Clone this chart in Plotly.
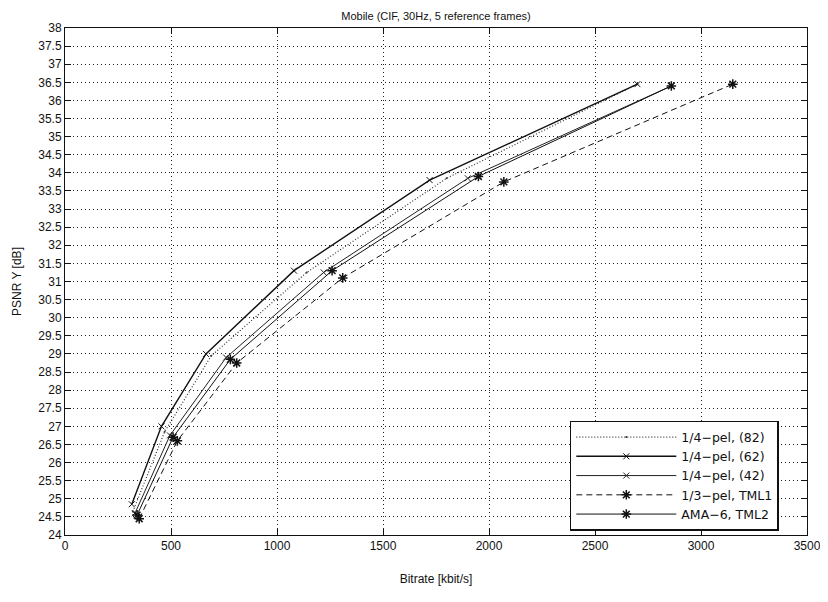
import plotly.graph_objects as go

# Data (bitrate kbit/s, PSNR dB)
pel82_x = [320, 470, 690, 1140, 1800, 2700]
pel82_y = [24.65, 26.85, 28.95, 31.25, 33.85, 36.45]

pel62_x = [315, 455, 665, 1080, 1720, 2700]
pel62_y = [24.85, 27.0, 29.0, 31.3, 33.8, 36.45]

pel42_x = [330, 495, 760, 1220, 1900, 2860]
pel42_y = [24.6, 26.75, 28.9, 31.25, 33.85, 36.4]

tml1_x = [350, 530, 810, 1310, 2070, 3150]
tml1_y = [24.45, 26.6, 28.75, 31.1, 33.75, 36.45]

tml2_x = [340, 510, 780, 1260, 1950, 2860]
tml2_y = [24.55, 26.7, 28.85, 31.3, 33.9, 36.4]

x_ticks = [0, 500, 1000, 1500, 2000, 2500, 3000, 3500]
y_ticks = [24 + 0.5 * i for i in range(29)]
y_ticklabels = [("%g" % v) for v in y_ticks]

series = [
    ("1/4\u2212pel, (82)", pel82_x, pel82_y, dict(color="#333", width=1.2, dash="1px,2px"), dict(symbol="circle", size=2, color="#333")),
    ("1/4\u2212pel, (62)", pel62_x, pel62_y, dict(color="#111", width=1.4, dash="solid"), dict(symbol="x-thin-open", size=6, line=dict(color="#111", width=1))),
    ("1/4\u2212pel, (42)", pel42_x, pel42_y, dict(color="#222", width=1.0, dash="solid"), dict(symbol="x-thin-open", size=6, line=dict(color="#222", width=1))),
    ("1/3\u2212pel, TML1", tml1_x, tml1_y, dict(color="#111", width=1.0, dash="6px,4px"), dict(symbol="asterisk-open", size=8, line=dict(color="#111", width=1.5))),
    ("AMA\u22126, TML2", tml2_x, tml2_y, dict(color="#111", width=1.0, dash="solid"), dict(symbol="asterisk-open", size=8, line=dict(color="#111", width=1.5))),
]

fig = go.Figure()
for name, xs, ys, ln, mk in series:
    fig.add_trace(go.Scatter(x=xs, y=ys, mode="lines+markers", name=name, line=ln, marker=mk))

font_family = "Liberation Sans, Arial, sans-serif"
axis_font = dict(family=font_family, size=12, color="#111")

# page has an 8px body margin: figure is 820x594 so it fits the 828x602 window
fig.update_layout(
    width=820, height=594,
    margin=dict(l=57, r=21, t=20, b=67, autoexpand=False),
    paper_bgcolor="white", plot_bgcolor="white",
    title=dict(text="Mobile (CIF, 30Hz, 5 reference frames)", x=0.5, xanchor="center",
               xref="paper", y=1 - 8 / 594, yref="container", yanchor="middle", automargin=False,
               font=dict(family=font_family, size=11, color="#111")),
    font=axis_font,
    showlegend=True,
    legend=dict(x=0.962, xanchor="right", y=0.008, yanchor="bottom",
                bgcolor="white", bordercolor="#111", borderwidth=1.5,
                font=dict(family="DejaVu Sans, sans-serif", size=12.5, color="#111"),
                itemwidth=100, tracegroupgap=0),
)

fig.update_xaxes(range=[0, 3500], tickvals=x_ticks, ticktext=[str(v) for v in x_ticks],
                 automargin=False,
                 showline=True, linecolor="#111", linewidth=1, mirror="allticks",
                 ticks="inside", ticklen=6, tickcolor="#111",
                 showgrid=True, gridcolor="#222", griddash="1px,3px", gridwidth=1,
                 zeroline=False, title=dict(text="Bitrate [kbit/s]", standoff=22,
                 font=dict(size=12)))
fig.update_yaxes(range=[24, 38], tickvals=y_ticks, ticktext=y_ticklabels,
                 automargin=False,
                 showline=True, linecolor="#111", linewidth=1, mirror="allticks",
                 ticks="inside", ticklen=6, tickcolor="#111",
                 showgrid=True, gridcolor="#222", griddash="1px,3px", gridwidth=1,
                 zeroline=False, title=dict(text="PSNR Y [dB]", standoff=14,
                 font=dict(size=12)))

fig.write_html("out.html")
